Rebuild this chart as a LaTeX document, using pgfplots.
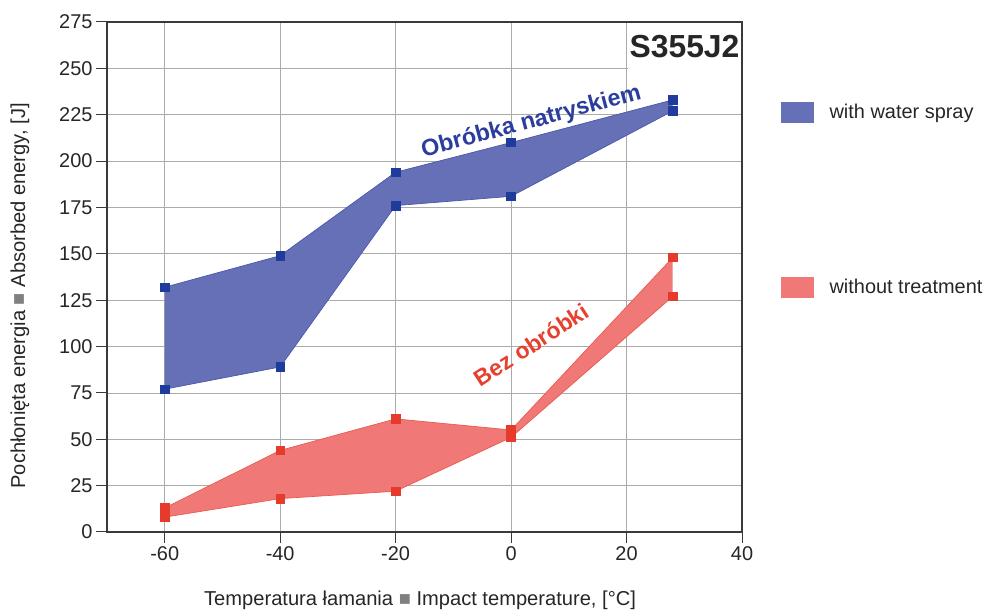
\documentclass[border=0pt]{standalone}
\usepackage{fontspec}
\setmainfont{Liberation Sans}
\usepackage{pgfplots}
\pgfplotsset{compat=1.18}
\usepgfplotslibrary{fillbetween}
\definecolor{blueF}{HTML}{6670B6}
\definecolor{blueL}{HTML}{4A58AA}
\definecolor{blueM}{HTML}{1F3C9C}
\definecolor{blueT}{HTML}{2B3E9E}
\definecolor{redF}{HTML}{F07876}
\definecolor{redL}{HTML}{EA5A50}
\definecolor{redM}{HTML}{E63A2C}
\definecolor{redT}{HTML}{E6402E}
\definecolor{gridc}{HTML}{ABABAB}
\definecolor{axc}{HTML}{3A3A3A}
\definecolor{txt}{HTML}{262626}
\begin{document}
\begin{tikzpicture}
\begin{axis}[
  set layers,
  at={(107bp,78bp)}, anchor=south west,
  scale only axis, width=635bp, height=510bp,
  xmin=-70, xmax=40, ymin=0, ymax=275,
  xtick={-60,-40,...,40}, ytick={0,25,...,275},
  xtick pos=bottom, ytick pos=left,
  tick align=outside, major tick length=11bp,
  grid=major, grid style={gridc, line width=0.8bp},
  axis line style={axc, line width=1.1bp},
  tick style={axc, line width=1bp},
  /pgf/number format/assume math mode=true,
  ticklabel style={font=\fontsize{20}{24}\selectfont, text=txt},
  label style={font=\fontsize{20.2}{24}\selectfont, text=txt},
  xlabel={Temperatura łamania {\color{gray}■} Impact temperature, [°C]},
  ylabel={Pochłonięta energia {\color{gray}■} Absorbed energy, [J]},
  xlabel style={at={(axis description cs:0.493,-0.1333)}, anchor=center},
  ylabel style={at={(axis description cs:-0.137,0.463)}, anchor=center},
  legend style={at={(rel axis cs:1.0614,0.8431)}, anchor=north west,
    draw=none, fill=none, inner sep=0pt, row sep=154bp,
    font=\fontsize{20}{24}\selectfont, text=txt, cells={anchor=west},
    /tikz/every odd column/.append style={column sep=14bp}},
]
\addlegendimage{legend image code/.code={\fill[blueF] (0bp,-10bp) rectangle (32bp,10bp);}}
\addlegendentry{with water spray}
\addlegendimage{legend image code/.code={\fill[redF] (0bp,-10bp) rectangle (32bp,10bp);}}
\addlegendentry{without treatment}

\addplot[name path=bu, blueL, line width=0.7bp, mark=square*, mark size=4.3bp, mark options={blueM, fill=blueM}, forget plot]
  coordinates {(-60,132) (-40,149) (-20,194) (0,210) (28,233)};
\addplot[name path=bl, blueL, line width=0.7bp, mark=square*, mark size=4.3bp, mark options={blueM, fill=blueM}, forget plot]
  coordinates {(-60,77) (-40,89) (-20,176) (0,181) (28,227)};
\addplot[blueF, forget plot] fill between[of=bu and bl];

\addplot[name path=ru, redL, line width=0.7bp, mark=square*, mark size=4.3bp, mark options={redM, fill=redM}, forget plot]
  coordinates {(-60,13) (-40,44) (-20,61) (0,55) (28,148)};
\addplot[name path=rl, redL, line width=0.7bp, mark=square*, mark size=4.3bp, mark options={redM, fill=redM}, forget plot]
  coordinates {(-60,8) (-40,18) (-20,22) (0,51) (28,127)};
\addplot[redF, forget plot] fill between[of=ru and rl];

\node[rotate=15, text=blueT, font=\fontsize{23.5}{26}\selectfont\bfseries] at (axis cs:3.5,221) {Obróbka natryskiem};
\node[rotate=33, text=redT, font=\fontsize{23}{26}\selectfont\bfseries] at (axis cs:3.5,101) {Bez obróbki};
\node[anchor=north east, fill=white, inner sep=0pt, minimum width=113bp, minimum height=47bp, text=txt, font=\fontsize{32}{36}\selectfont\bfseries]
  at ([xshift=-0.8bp,yshift=-0.8bp]rel axis cs:1,1) {S355J2};
\end{axis}
\pgfresetboundingbox
\useasboundingbox (0bp,0bp) rectangle (987bp,610bp);
\end{tikzpicture}
\end{document}
